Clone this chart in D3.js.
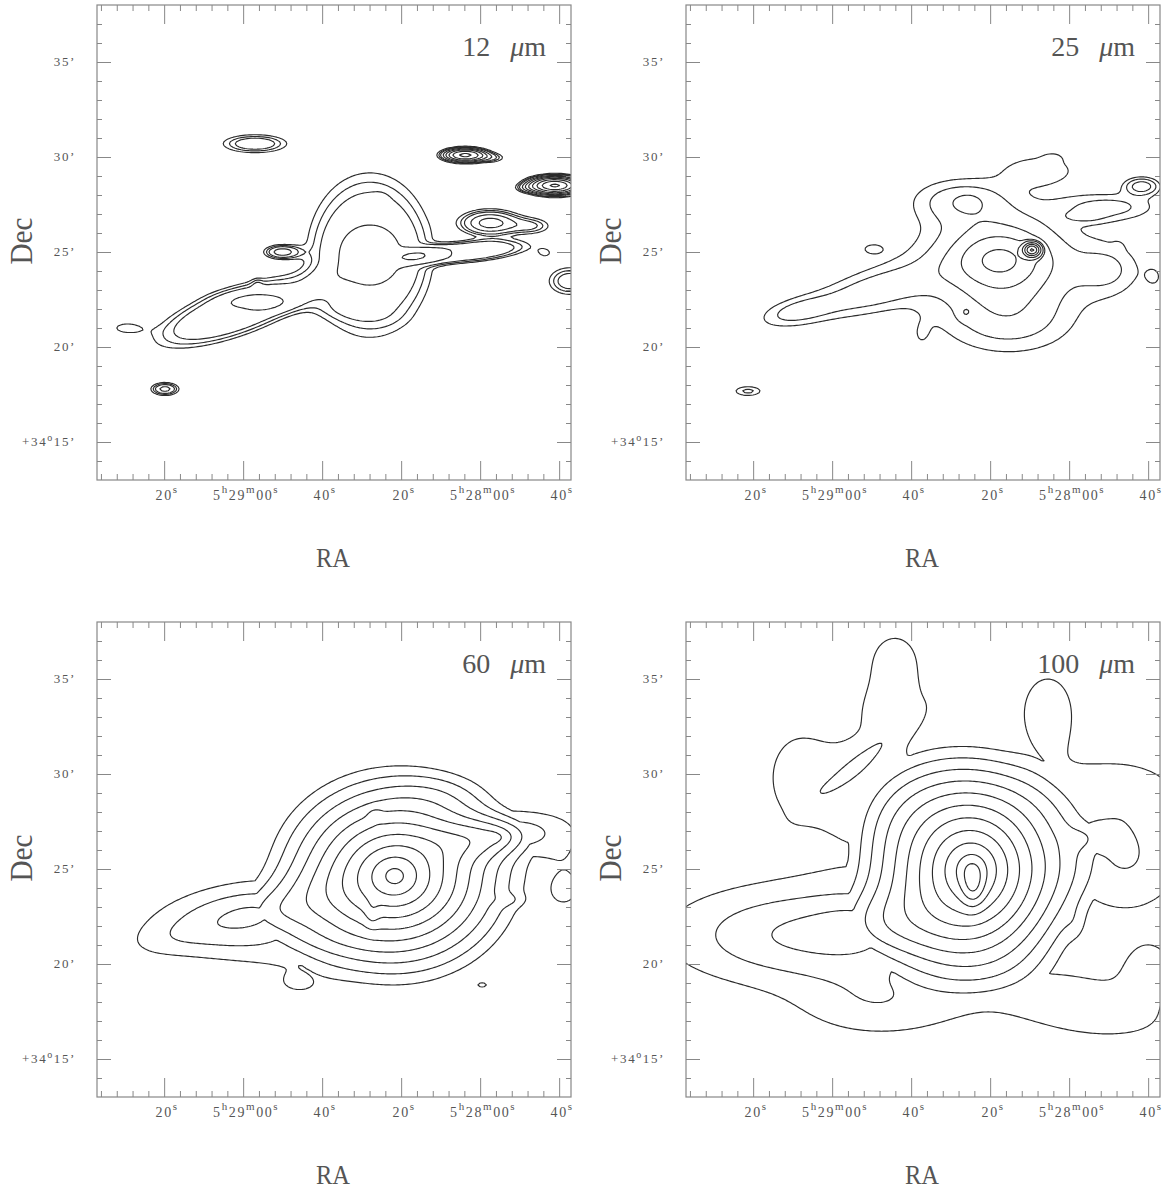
<!DOCTYPE html>
<html>
<head>
<meta charset="utf-8">
<script src="https://cdn.jsdelivr.net/npm/d3@7"></script>
<style>
  body { margin: 0; background: #fff; }
  text { font-family: "Liberation Serif", "Times New Roman", serif; fill: #555; }
</style>
</head>
<body>
<svg id="chart" width="1164" height="1190"></svg>
<script>
// RA in seconds after 5h27m, Dec in arcmin after +34deg
const raTicks = [140, 120, 100, 80, 60, 40];
const raTickLabels = ["20^s", "5^h29^m00^s", "40^s", "20^s", "5^h28^m00^s", "40^s"];
const decTicks = [35, 30, 25, 20, 15];
const decTickLabels = ["35’", "30’", "25’", "20’", "+34^o15’"];
const bands = ["12", "25", "60", "100"];

// emission components:
// [ra, dec, peak, sigmaX', sigmaY', angle, profile]
// profile: 1 = gaussian (default), 2 = flat-topped, 0 = cone (sigmas are radii)
const blobs12 = [
  [117.0, 30.70, 2.6, 1.21, 0.34, 0],
  [63.8, 30.10, 11, 0.68, 0.21, 0],
  [57.0, 29.95, 1.5, 0.53, 0.18, 0],
  [41.1, 28.50, 20, 0.77, 0.26, 0],
  [48.1, 28.37, 1.2, 0.47, 0.16, 0],
  [57.5, 26.53, 4.2, 1.03, 0.44, 0],
  [46.9, 26.37, 1.7, 0.79, 0.32, 0],
  [110.2, 25.00, 3.2, 0.63, 0.25, 0],
  [37.3, 23.47, 2.4, 0.82, 0.53, 0],
  [43.6, 24.95, 1.15, 0.39, 0.25, 0],
  [149.4, 21.00, 1.3, 0.74, 0.29, 0],
  [139.8, 17.79, 3.0, 0.50, 0.23, 0],
  [122.1, 21.84, 2.4, 3.26, 0.95, 19, 2],
  [87.9, 24.84, 2.4, 2.42, 3.16, 0, 2],
  [63.8, 25.00, 2.4, 2.47, 0.42, 5, 2],
  [87.9, 24.84, 0.6, 1.42, 1.16, 0],
  [108.1, 22.21, 0.5, 3.16, 0.42, -7],
  [85.4, 27.74, 0.5, 0.26, 0.21, 0],
  [116.5, 23.37, 0.5, 0.21, 0.21, 0]
];
const blobs25 = [
  [129.4, 21.84, 1.7, 1.47, 0.53, 12],
  [110.4, 22.90, 2.0, 2.37, 0.84, 15],
  [77.5, 24.47, 2.6, 3.16, 2.10, 0],
  [87.6, 27.74, 1.7, 1.84, 0.84, 0],
  [67.4, 29.32, 1.4, 1.58, 0.63, 0],
  [49.7, 27.37, 1.8, 1.84, 0.53, 0],
  [41.6, 28.47, 3.0, 0.63, 0.32, 0],
  [75.0, 21.16, 1.4, 2.63, 1.32, 0],
  [49.7, 24.05, 1.4, 1.32, 1.05, 0],
  [77.5, 24.68, 1.6, 1.84, 1.16, 0],
  [69.4, 25.11, 16, 0.26, 0.21, 0],
  [141.3, 17.68, 1.8, 0.58, 0.21, 0],
  [109.7, 25.16, 1.2, 0.42, 0.21, 0],
  [64.1, 30.00, 0.6, 0.42, 0.21, 0],
  [86.4, 21.79, 0.6, 0.26, 0.26, 0],
  [85.6, 27.63, 0.6, 0.42, 0.26, 0],
  [56.0, 26.84, 0.7, 0.74, 0.21, 0],
  [47.6, 25.26, 0.5, 0.21, 0.21, 0],
  [38.3, 23.68, 0.8, 0.42, 0.53, 0],
  [97.8, 20.47, 0.6, 0.53, 0.80, 0]
];
const blobs60 = [
  [81.6, 24.63, 10.6, 7.37, 6.32, 0, 0],
  [122.1, 22.58, 2.75, 3.16, 1.16, 10],
  [113.7, 22.74, 0.4, 1.32, 0.63, 0],
  [139.8, 21.26, 0.5, 1.58, 0.63, 10],
  [53.7, 26.79, 2.8, 2.10, 0.79, 5],
  [38.5, 24.95, 0.9, 1.32, 1.58, 0],
  [66.4, 29.16, 0.7, 2.37, 0.95, 0],
  [111.9, 21.00, 1.2, 2.89, 0.95, 0],
  [105.6, 18.90, 1.0, 1.58, 0.74, 0],
  [86.6, 27.84, 0.6, 0.26, 0.26, 0],
  [87.4, 22.58, 0.6, 0.26, 0.53, 0],
  [56.2, 26.68, 0.5, 0.42, 0.21, 0],
  [51.9, 23.37, 0.7, 0.63, 0.26, 0],
  [59.5, 18.90, 1.15, 0.42, 0.21, 0],
  [39.0, 23.79, 0.8, 0.53, 0.53, 0]
];
const blobs100 = [
  [84.6, 24.95, 11, 6.58, 6.95, 0, 0],
  [84.3, 24.00, 1.5, 0.42, 0.74, 0],
  [128.1, 21.53, 3.1, 4.74, 1.84, 0],
  [111.7, 22.05, 1.0, 1.84, 1.32, 0],
  [107.9, 17.84, 1.6, 3.16, 1.32, 0],
  [57.3, 17.84, 1.4, 4.74, 1.68, -10],
  [39.5, 19.95, 1.2, 1.05, 1.05, 0],
  [111.7, 29.16, 1.5, 3.16, 2.89, 0],
  [129.4, 29.95, 1.0, 1.05, 1.58, 0],
  [104.1, 36.00, 1.4, 1.16, 1.32, 0],
  [104.1, 33.63, 1.0, 1.32, 1.05, 0],
  [112.4, 30.74, 1.0, 2.37, 0.42, 40],
  [65.4, 33.26, 1.7, 1.16, 1.68, 0],
  [49.7, 29.16, 1.3, 3.16, 1.58, 0],
  [54.7, 26.68, 1.0, 0.74, 0.53, 0],
  [45.9, 25.47, 2.0, 2.37, 2.10, 0],
  [57.8, 21.90, 0.6, 0.42, 0.63, 0]
];

const levels12 = [1, 1.4, 1.8, 2.6, 3.6, 5, 7, 10, 14, 19];
const levels25 = [1, 1.6, 2.4, 3.2, 4, 6, 9, 13, 18, 25];
const levels60 = [1, 2, 3, 4, 5, 6, 7, 8, 9, 10];
const levels100 = [1, 2, 3, 4, 5, 6, 7, 8, 9, 10, 11];

const blobSets = [blobs12, blobs25, blobs60, blobs100];
const levelSets = [levels12, levels25, levels60, levels100];

const width = 474, height = 475;
const panelPos = [[97, 5], [686, 5], [97, 622], [686, 622]];
const svg = d3.select("#chart");

// grid for the maps, a little larger than the frame so clipped edges stay open
const ra0 = 161, dRa = 0.5, nx = 257;
const dec0 = 40, dDec = 0.1, ny = 291;
const kRa = 0.208; // arcmin per RA second at this Dec

function field(blobs) {
  const values = new Float64Array(nx * ny);
  for (let j = 0; j < ny; j++) {
    const dec = dec0 - j * dDec;
    for (let i = 0; i < nx; i++) {
      const ra = ra0 - i * dRa;
      let v = 0;
      for (const [r, d, a, sx, sy, ang, p = 1] of blobs) {
        const dx = (r - ra) * kRa, dy = dec - d;
        const t = ang * Math.PI / 180;
        const u = dx * Math.cos(t) + dy * Math.sin(t);
        const w = -dx * Math.sin(t) + dy * Math.cos(t);
        const q = u * u / (sx * sx) + w * w / (sy * sy);
        if (p === 0) v += a * Math.max(0, 1 - Math.sqrt(q));
        else v += a * Math.exp(-Math.pow(q, p) / (2 * p));
      }
      values[j * nx + i] = v;
    }
  }
  return values;
}

function addLabel(sel, str, supShift, supSize) {
  const parts = str.split(/(\^.)/).filter(p => p.length);
  let up = false;
  parts.forEach(p => {
    if (p[0] === "^") {
      sel.append("tspan").attr("dy", -supShift).style("font-size", supSize + "px").text(p[1]);
      up = true;
    } else {
      sel.append("tspan").attr("dy", up ? supShift : 0).text(p);
      up = false;
    }
  });
}

blobSets.forEach((blobs, k) => {
  const [L, T] = panelPos[k];
  const g = svg.append("g").attr("transform", `translate(${L},${T})`);

  const x = d3.scaleLinear().domain([157, 37]).range([0, width]);
  const y = d3.scaleLinear().domain([38, 13]).range([0, height]);

  g.append("clipPath").attr("id", "clip" + k)
    .append("rect").attr("width", width).attr("height", height);

  const contours = d3.contours().size([nx, ny]).thresholds(levelSets[k])(field(blobs));
  const proj = d3.geoTransform({
    point: function(px, py) {
      this.stream.point(x(ra0 - (px - 0.5) * dRa), y(dec0 - (py - 0.5) * dDec));
    }
  });
  const path = d3.geoPath(proj);

  g.append("g").attr("clip-path", `url(#clip${k})`)
    .selectAll("path").data(contours).join("path")
    .attr("d", path)
    .attr("fill", "none")
    .attr("stroke", "#2b2b2b")
    .attr("stroke-width", 1.15)
    .attr("stroke-linejoin", "round");

  // ticks on all four sides, pointing inward
  const raMinor = d3.range(40, 157, 4).filter(v => v % 20 !== 0);
  const decMinor = d3.range(14, 38, 1).filter(v => v % 5 !== 0);
  const tickGroup = (axis, tr) => g.append("g").attr("transform", tr).attr("color", "#888")
    .call(axis).call(s => s.select(".domain").remove());

  tickGroup(d3.axisBottom(x).tickValues(raMinor).tickSize(-6).tickFormat(""), `translate(0,${height})`);
  tickGroup(d3.axisBottom(x).tickValues(raTicks).tickSize(-19).tickFormat(""), `translate(0,${height})`);
  tickGroup(d3.axisTop(x).tickValues(raMinor).tickSize(-6).tickFormat(""), "translate(0,0)");
  tickGroup(d3.axisTop(x).tickValues(raTicks).tickSize(-19).tickFormat(""), "translate(0,0)");
  tickGroup(d3.axisLeft(y).tickValues(decMinor).tickSize(-5).tickFormat(""), "translate(0,0)");
  tickGroup(d3.axisLeft(y).tickValues(decTicks).tickSize(-14).tickFormat(""), "translate(0,0)");
  tickGroup(d3.axisRight(y).tickValues(decMinor).tickSize(-5).tickFormat(""), `translate(${width},0)`);
  tickGroup(d3.axisRight(y).tickValues(decTicks).tickSize(-14).tickFormat(""), `translate(${width},0)`);

  g.append("rect").attr("width", width).attr("height", height)
    .attr("fill", "none").attr("stroke", "#888").attr("stroke-width", 1.2);

  // tick labels
  raTicks.forEach((v, i) => {
    const t = g.append("text").attr("x", x(v) + 3).attr("y", height + 20)
      .attr("text-anchor", "middle").style("font-size", "14px").style("letter-spacing", "1.6px");
    addLabel(t, raTickLabels[i], 7, 11);
  });
  decTicks.forEach((v, i) => {
    const t = g.append("text").attr("x", -21).attr("y", y(v) + 4)
      .attr("text-anchor", "end").style("font-size", "13px").style("letter-spacing", "1.6px");
    addLabel(t, decTickLabels[i], 5, 10);
  });

  // axis titles
  g.append("text").attr("x", width / 2 - 1).attr("y", 562)
    .attr("text-anchor", "middle").style("font-size", "28px")
    .attr("textLength", 34).attr("lengthAdjust", "spacingAndGlyphs").text("RA");
  g.append("text").attr("transform", `translate(${32 - 97},236) rotate(-90)`)
    .attr("text-anchor", "middle").style("font-size", "31px")
    .attr("textLength", 47).attr("lengthAdjust", "spacingAndGlyphs").text("Dec");

  // band label
  const lab = g.append("text").attr("x", 449).attr("y", 51)
    .attr("text-anchor", "end").style("font-size", "28px");
  lab.append("tspan").text(bands[k]);
  lab.append("tspan").attr("dx", 20).style("font-style", "italic").text("μ");
  lab.append("tspan").text("m");
});
</script>
</body>
</html>
